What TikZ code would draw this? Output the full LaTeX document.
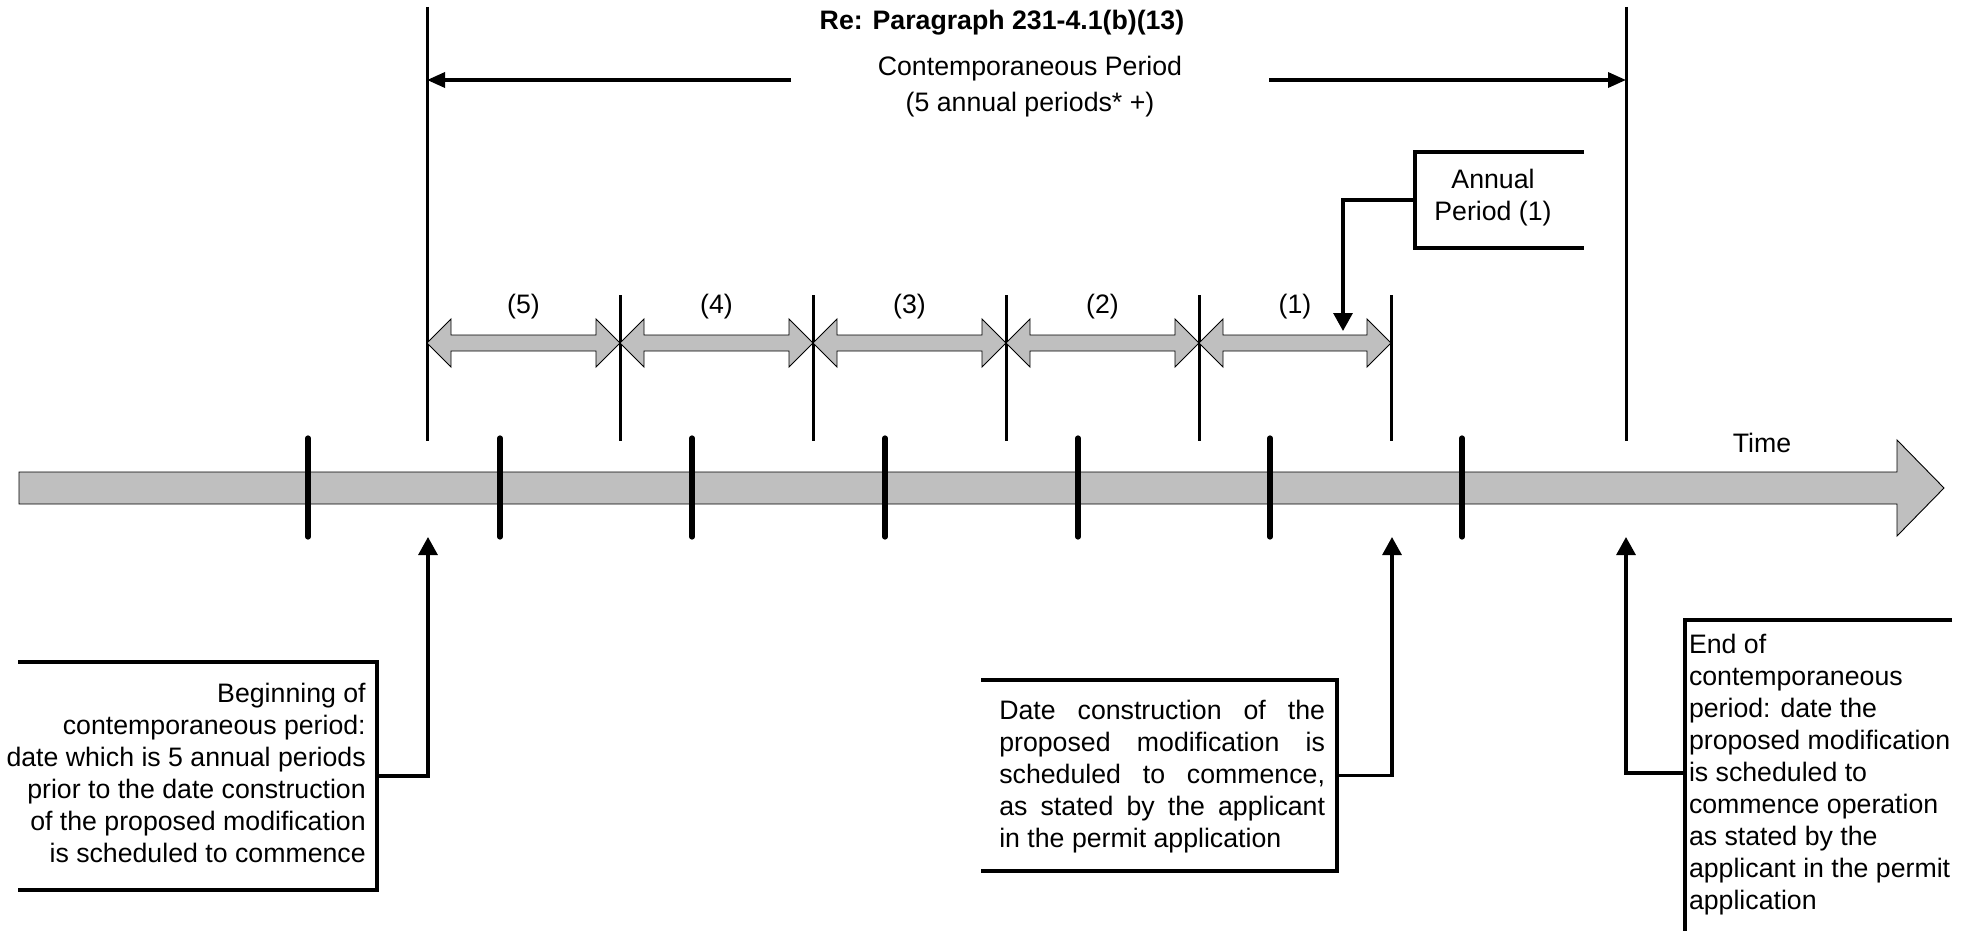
\documentclass[tikz,border=0pt]{standalone}
\usepackage{fontspec}
\setmainfont{Liberation Sans}
\usetikzlibrary{arrows.meta}
\begin{document}
\begin{tikzpicture}[x=1pt,y=-1pt,
  every node/.style={font=\fontsize{26.7}{32}\selectfont, inner sep=0pt, outer sep=0pt},
  fillgray/.style={fill=black!25, draw=black, line width=0.9pt, line join=miter},
  ticks/.style={line width=5.2pt, line cap=round},
  divider/.style={line width=3pt},
  boxline/.style={line width=3.1pt},
  conn/.style={line width=3.1pt, -{Triangle[length=18pt,width=19pt]}},
  carrow/.style={line width=3.4pt, -{Triangle[length=18pt,width=15pt]}},
  frame/.style={draw=none, minimum width=#1},
]
\useasboundingbox (0,0) rectangle (1974,931);

% time bar
\draw[fillgray] (19,472) -- (1897,472) -- (1897,440) -- (1944,488) -- (1897,536) -- (1897,504) -- (19,504) -- cycle;
\node[anchor=base] (time) at (1762,452) {Time};
\foreach \x in {308,500,692,885,1078,1270,1462} \draw[ticks] (\x,438) -- (\x,537);

% dividers
\draw[divider] (427,7) -- (427,441);
\foreach \x in {620,813,1006,1199,1391} \draw[divider] (\x,295) -- (\x,441);
\draw[divider] (1626,7) -- (1626,441);

% annual period double arrows
\foreach \a/\b/\l in {427/620/5, 620/813/4, 813/1006/3, 1006/1199/2, 1199/1391/1} {
  \draw[fillgray] (\a,343) -- (\a+24,319) -- (\a+24,335) -- (\b-24,335) -- (\b-24,319) -- (\b,343)
     -- (\b-24,367) -- (\b-24,351) -- (\a+24,351) -- (\a+24,367) -- cycle;
  \node[anchor=base] (p\l) at ({(\a+\b)/2},313) {(\l)};
}

% title
\node[anchor=base, font=\fontsize{26.7}{32}\selectfont\bfseries] (title) at (1002,30) {Re: Paragraph 231-4.1(b)(13)};

% contemporaneous period
\node[anchor=base] (cp1) at (1030,76) {Contemporaneous Period};
\node[anchor=base] (cp2) at (1030,112) {(5 annual periods* +)};
\coordinate (cpL) at (791,80);
\coordinate (cpR) at (1269,80);
\coordinate (dL) at (427,80);
\coordinate (dR) at (1626,80);
\draw[carrow] (cpL) -- (dL);
\draw[carrow] (cpR) -- (dR);

% annual period box
\node[frame=169pt, minimum height=96pt] (ann) at (1499.5,200) {};
\draw[boxline] (ann.north east) -- (ann.north west) -- (ann.south west) -- (ann.south east);
\node[anchor=base] (annt) at (1493,188.3) {\begin{tabular}[t]{@{}c@{}}Annual\\Period (1)\end{tabular}};
\coordinate (a1) at (1343,331);
\draw[conn] (ann.west) -| (a1);

% targets on the timeline
\coordinate (t1) at (428,537);
\coordinate (t2) at (1392,537);
\coordinate (t3) at (1626,537);

% left box
\node[frame=359pt, minimum height=228pt] (lbox) at (197.5,776) {};
\draw[boxline] (lbox.north west) -- (lbox.north east) -- (lbox.south east) -- (lbox.south west);
\node[anchor=base east] (ltext) at (365.7,702.7) {\begin{tabular}[t]{@{}r@{}}Beginning of\\contemporaneous period:\\date which is 5 annual periods\\prior to the date construction\\of the proposed modification\\is scheduled to commence\end{tabular}};
\draw[conn] (lbox.east) -| (t1);

% middle box
\node[frame=356pt, minimum height=191pt] (mbox) at (1159,775.5) {};
\draw[boxline] (mbox.north west) -- (mbox.north east) -- (mbox.south east) -- (mbox.south west);
\node[anchor=base west] (mtext) at (999.3,719.3) {\begin{tabular}[t]{@{}l@{}}\makebox[325.7pt][s]{Date construction of the}\\\makebox[325.7pt][s]{proposed modification is}\\\makebox[325.7pt][s]{scheduled to commence,}\\\makebox[325.7pt][s]{as stated by the applicant}\\in the permit application\end{tabular}};
\draw[conn] (mbox.east) -| (t2);

% right box
\node[frame=267pt, minimum height=306pt] (rbox) at (1818.5,773) {};
\draw[boxline] (rbox.north east) -- (rbox.north west) -- ([yshift=-20pt]rbox.south west);
\node[anchor=base west] (rtext) at (1689,653) {\begin{tabular}[t]{@{}l@{}}End of\\contemporaneous\\period: date the\\proposed modification\\is scheduled to\\commence operation\\as stated by the\\applicant in the permit\\application\end{tabular}};
\draw[conn] (rbox.west) -| (t3);
\end{tikzpicture}
\end{document}
